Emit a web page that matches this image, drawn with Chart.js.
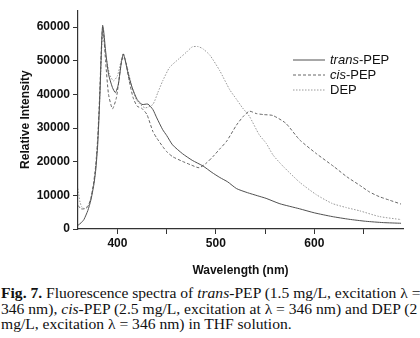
<!DOCTYPE html>
<html>
<head>
<meta charset="utf-8">
<script src="https://cdn.jsdelivr.net/npm/chart.js@4"></script>
<style>
  body { margin: 0; background: #fff; width: 420px; height: 338px; overflow: hidden; position: relative; }
  #chart-box { position: absolute; left: 0; top: 0; width: 420px; height: 282px; }
  #caption {
    position: absolute; left: 1px; top: 285px; width: 460px;
    font-family: "Liberation Serif", "Times New Roman", serif; font-size: 15.6px; line-height: 15.5px;
    color: #111; white-space: nowrap;
  }
</style>
</head>
<body>
<div id="chart-box"><canvas id="spectra" width="420" height="282"></canvas></div>
<div id="caption">
  <div><b>Fig. 7.</b> Fluorescence spectra of <i>trans</i>-PEP (1.5 mg/L, excitation λ =</div>
  <div>346 nm), <i>cis</i>-PEP (2.5 mg/L, excitation at λ = 346 nm) and DEP (2</div>
  <div>mg/L, excitation λ = 346 nm) in THF solution.</div>
</div>
<script>
// series names (prefix before '-' is drawn italic in the legend)
const seriesNames = ['trans-PEP', 'cis-PEP', 'DEP']

// trans-PEP
const transWl = [360,363,366,370,373,376,378,380,382,384,385,386,388,391,395,398,401,404,406,408,411,415,420,425,431,436,440,446,450,456,466,476,487,496,504,512,521,532,542,551,565,585,600,618,635,652,670,688]
const transInt = [1100,1800,2800,5500,8500,13000,17500,25000,38000,55000,60500,59000,53000,46000,42000,40500,43000,49500,52000,50000,46000,42000,38500,37000,37100,35500,33000,29500,27800,25000,22400,20400,18700,16800,15300,14000,12000,10800,9900,9100,7500,6000,4800,3700,2900,2300,1900,1700]

// cis-PEP
const cisWl = [360,363,366,370,373,376,378,380,382,384,385,386,388,391,395,399,403,406,409,412,416,420,425,430,436,440,446,450,456,466,475,483,490,497,504,511,521,528,534,541,548,558,571,585,602,620,633,646,656,666,677,688]
const cisInt = [7000,6000,6000,6800,9000,14000,19000,27000,40000,56000,60000,58000,50000,40000,35700,39000,47500,52000,49000,44000,39000,36500,35800,34000,29000,27000,24500,23000,21500,20100,19000,18200,19500,21500,23800,26100,30900,33500,35000,34300,34000,33700,31400,26500,22400,18500,15500,13000,11000,9600,8500,7400]

// DEP
const depWl = [360,362,364,367,370,373,376,378,380,382,384,385,386,388,392,396,400,404,407,410,415,420,428,436,441,446,453,463,470,476,482,487,494,504,514,521,527,534,544,551,558,568,585,602,618,632,646,666,688]
const depInt = [12000,8000,6500,6000,6500,9000,13500,18000,26000,38000,53000,58000,57000,52000,46000,44000,45500,50000,51000,48000,42000,38000,36000,37000,40500,44000,48000,50700,52500,54100,54200,53500,51600,47000,41400,38500,36000,33500,28000,25500,22000,18700,13900,10200,7600,6400,5400,3700,2800]

// axis ticks
const xMajorTicks = [400, 500, 600]
const xMinorTicks = [450, 550, 650]
const yTickStep = 5000

const toPoints = (wl, vals) => wl.map((w, i) => ({ x: w, y: vals[i] }))

const tickFont = { family: 'Liberation Sans, Arial, sans-serif', size: 12, weight: 'bold' }
const titleFont = { family: 'Liberation Sans, Arial, sans-serif', size: 12, weight: 'bold' }

// legend drawn on the canvas so the italic prefixes can be kept
const legendPlugin = {
    id: 'paperLegend',
    afterDraw(chart) {
        const ctx = chart.ctx
        const x0 = 293, x1 = 325, tx = 330
        const rows = [60, 75, 90]
        chart.data.datasets.forEach((ds, i) => {
            const y = rows[i]
            ctx.save()
            ctx.strokeStyle = ds.borderColor
            ctx.lineWidth = ds.borderWidth
            ctx.setLineDash(ds.borderDash || [])
            ctx.beginPath()
            ctx.moveTo(x0, y)
            ctx.lineTo(x1, y)
            ctx.stroke()
            ctx.setLineDash([])
            ctx.fillStyle = '#111'
            ctx.textBaseline = 'middle'
            const name = seriesNames[i]
            const cut = name.indexOf('-')
            let x = tx
            if (cut > 0) {
                ctx.font = 'italic 13px "Liberation Sans", Arial, sans-serif'
                const part = name.slice(0, cut)
                ctx.fillText(part, x, y)
                x += ctx.measureText(part).width
                ctx.font = '13px "Liberation Sans", Arial, sans-serif'
                ctx.fillText(name.slice(cut), x, y)
            } else {
                ctx.font = '13px "Liberation Sans", Arial, sans-serif'
                ctx.fillText(name, x, y)
            }
            ctx.restore()
        })
    }
}

const ctx = document.getElementById('spectra').getContext('2d')
new Chart(ctx, {
    type: 'line',
    data: {
        datasets: [
            {
                label: seriesNames[0],
                data: toPoints(transWl, transInt),
                borderColor: '#505050',
                borderWidth: 1,
                pointRadius: 0,
                tension: 0.2
            },
            {
                label: seriesNames[1],
                data: toPoints(cisWl, cisInt),
                borderColor: '#666666',
                borderWidth: 1,
                borderDash: [3, 2],
                pointRadius: 0,
                tension: 0.2
            },
            {
                label: seriesNames[2],
                data: toPoints(depWl, depInt),
                borderColor: '#9a9a9a',
                borderWidth: 1,
                borderDash: [1.5, 1.5],
                pointRadius: 0,
                tension: 0.2
            }
        ]
    },
    options: {
        responsive: false,
        animation: false,
        layout: { padding: { left: 0, right: 17, top: 1, bottom: 0 } },
        plugins: {
            legend: { display: false },
            tooltip: { enabled: false }
        },
        scales: {
            x: {
                type: 'linear',
                min: 360,
                max: 690,
                afterBuildTicks: (scale) => {
                    scale.ticks = [...xMajorTicks, ...xMinorTicks].sort((a, b) => a - b).map(v => ({ value: v }))
                },
                afterFit: (scale) => { scale.height = 53 },
                ticks: {
                    color: '#111',
                    font: tickFont,
                    padding: 2,
                    maxRotation: 0,
                    autoSkip: false,
                    callback: (v) => xMajorTicks.includes(v) ? v : ''
                },
                grid: { drawOnChartArea: false, tickLength: 5, tickColor: '#333' },
                border: { color: '#333', width: 1.2 },
                title: { display: true, text: 'Wavelength (nm)', color: '#111', font: titleFont, padding: { top: 6 } }
            },
            y: {
                min: 0,
                max: 65000,
                afterFit: (scale) => { scale.width = 78 },
                ticks: {
                    stepSize: yTickStep,
                    color: '#111',
                    font: tickFont,
                    padding: 3,
                    callback: (v) => v % 10000 === 0 ? v : ''
                },
                grid: { drawOnChartArea: false, tickLength: 5, tickColor: '#333' },
                border: { color: '#333', width: 1.2 },
                title: { display: true, text: 'Relative Intensity', color: '#111', font: titleFont, padding: { top: 18, bottom: 4 } }
            }
        }
    },
    plugins: [legendPlugin]
})
</script>
</body>
</html>
